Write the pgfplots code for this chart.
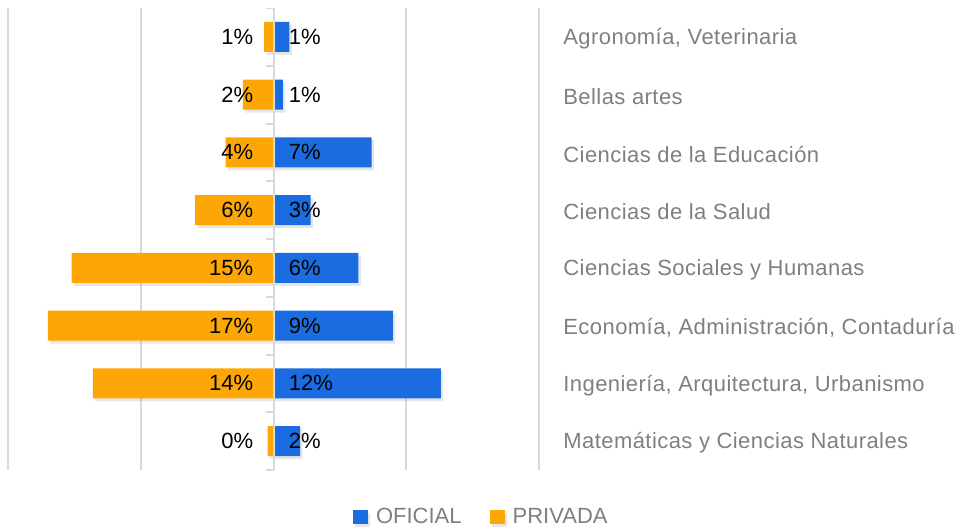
\documentclass[border=0pt]{standalone}
\usepackage{fontspec}
\setmainfont{Liberation Sans}
\newfontfamily\catfont[LetterSpace=2]{Liberation Sans}
\usepackage{pgfplots}
\pgfplotsset{compat=1.18}
\usetikzlibrary{shadows}

\definecolor{oficial}{HTML}{1A6CE0}
\definecolor{privada}{HTML}{FDA707}
\definecolor{gridgray}{HTML}{D9D9D9}
\definecolor{labgray}{HTML}{7F7F7F}

\begin{document}
\begin{tikzpicture}[font=\fontsize{11}{13}\selectfont]
\path[use as bounding box] (-4pt,-29.5pt) rectangle (476.5pt,235pt);
\begin{axis}[
    scale only axis,
    width=265.5pt, height=231pt,
    xmin=-20, xmax=20,
    ymin=-0.5, ymax=7.5,
    y dir=reverse,
    axis line style={draw=none},
    xtick={-20,-10,0,10,20},
    xticklabels={},
    xmajorgrids,
    grid style={draw=gridgray, line width=1pt},
    ytick={0,...,7},
    yticklabels={
        {Agronomía, Veterinaria},
        {Bellas artes},
        {Ciencias de la Educación},
        {Ciencias de la Salud},
        {Ciencias Sociales y Humanas},
        {Economía, Administración, Contaduría},
        {Ingeniería, Arquitectura, Urbanismo},
        {Matemáticas y Ciencias Naturales}},
    yticklabel pos=right,
    yticklabel style={anchor=west, inner sep=0pt, xshift=12pt, yshift=-1pt,
        text=labgray, font=\catfont\fontsize{11}{13}\selectfont},
    major tick length=0pt,
    legend columns=2,
    legend style={at={(0.897,-0.1017)}, anchor=center, draw=none, fill=none,
        text=labgray, inner sep=0pt,
        nodes={inner xsep=4pt},
        /tikz/every even column/.append style={column sep=10pt}},
]
% OFICIAL
\addplot[xbar, bar width=15pt, bar shift=0pt, draw=none, fill=oficial,
    drop shadow={shadow xshift=1.2pt, shadow yshift=-1.5pt, opacity=0.2},
    legend image code/.code={\fill[oficial] (0pt,-3.5pt) rectangle (7.5pt,3.5pt);}]
    coordinates {(1.2,0) (0.7,1) (7.4,2) (2.8,3) (6.4,4) (9.0,5) (12.6,6) (2.0,7)};
\addlegendentry{OFICIAL}
% PRIVADA
\addplot[xbar, bar width=15pt, bar shift=0pt, draw=none, fill=privada,
    drop shadow={shadow xshift=1.2pt, shadow yshift=-1.5pt, opacity=0.2},
    legend image code/.code={\fill[privada] (0pt,-3.5pt) rectangle (7.5pt,3.5pt);}]
    coordinates {(-0.7,0) (-2.3,1) (-3.6,2) (-5.9,3) (-15.2,4) (-17.0,5) (-13.6,6) (-0.45,7)};
\addlegendentry{PRIVADA}
% zero line and its small ticks
\addplot[gridgray, line width=1pt, forget plot] coordinates {(0,-0.5) (0,7.5)};
\addplot[xcomb, gridgray, line width=1pt, forget plot, mark=none]
    coordinates {(-0.6,-0.5) (-0.6,0.5) (-0.6,1.5) (-0.6,2.5) (-0.6,3.5) (-0.6,4.5) (-0.6,5.5) (-0.6,6.5) (-0.6,7.5)};
% value labels
\addplot[draw=none, mark=none, forget plot,
    nodes near coords, point meta=explicit symbolic,
    every node near coord/.append style={anchor=east, inner sep=0pt, xshift=-10pt, text=black}]
    coordinates {(0,0)[1\%] (0,1)[2\%] (0,2)[4\%] (0,3)[6\%] (0,4)[15\%] (0,5)[17\%] (0,6)[14\%] (0,7)[0\%]};
\addplot[draw=none, mark=none, forget plot,
    nodes near coords, point meta=explicit symbolic,
    every node near coord/.append style={anchor=west, inner sep=0pt, xshift=7.5pt, text=black}]
    coordinates {(0,0)[1\%] (0,1)[1\%] (0,2)[7\%] (0,3)[3\%] (0,4)[6\%] (0,5)[9\%] (0,6)[12\%] (0,7)[2\%]};
\end{axis}
\end{tikzpicture}
\end{document}
